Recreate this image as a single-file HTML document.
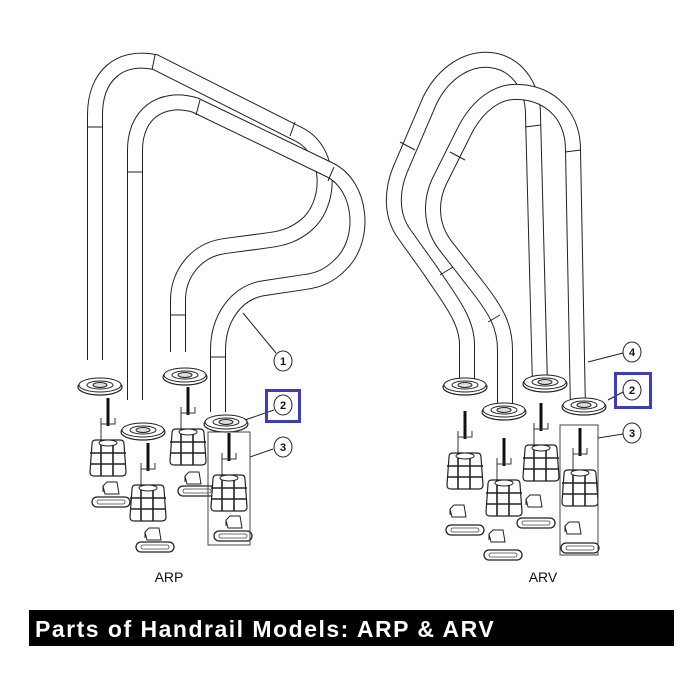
<!DOCTYPE html>
<html><head><meta charset="utf-8"><style>
html,body{margin:0;padding:0;background:#fff;width:700px;height:700px;overflow:hidden}
svg{display:block}
</style></head><body>
<svg width="700" height="700" viewBox="0 0 700 700" xmlns="http://www.w3.org/2000/svg">
<defs>
<g id="anc">
  <line x1="17" y1="-42" x2="17" y2="-14" stroke="#111" stroke-width="3"/>
  <path d="M10,-22 L10,-16 L24,-16 L24,-22 M10,-16 L10,2" fill="none" stroke="#333" stroke-width="1"/>
  <path d="M1,4 Q1,0 5,0 L29,0 Q33,0 33,4 L35,32 Q35,36 31,36 L3,36 Q-1,36 -1,32 Z" fill="#fff" stroke="#222" stroke-width="1.2"/>
  <path d="M-1,13 L35,13 M-1,24 L35,24 M10,0 L10,36 M22,0 L22,36" stroke="#222" stroke-width="1.6"/>
  <ellipse cx="17" cy="3" rx="9" ry="3" fill="#fff" stroke="#222"/>
</g>
<g id="wed">
  <path d="M0,4 L4,0 L14,0 L16,12 L2,12 Z M0,4 L0,10" fill="#fff" stroke="#222" stroke-width="1"/>
</g>
<g id="pl">
  <rect x="-19" y="-5" width="38" height="10" rx="5" fill="#fff" stroke="#222" stroke-width="1.3"/>
  <rect x="-14" y="-2" width="28" height="4" rx="2" fill="none" stroke="#444" stroke-width="0.8"/>
</g>
<g id="fl">
  <ellipse cx="0" cy="2" rx="22" ry="8" fill="#fff" stroke="#222" stroke-width="1.2"/>
  <ellipse cx="0" cy="0" rx="21" ry="7" fill="#fff" stroke="#222" stroke-width="1"/>
  <ellipse cx="0" cy="0" rx="13" ry="4" fill="none" stroke="#222" stroke-width="1"/>
  <ellipse cx="0" cy="0" rx="7" ry="2.5" fill="#ddd" stroke="#222" stroke-width="1"/>
</g>
</defs>

<g fill="none" stroke-linecap="butt" stroke-linejoin="round">
  <path d="M95,360 L95,115 C95,75 120,55 155,62 L300,135 C332,152 332,205 305,226 C295,234 285,238 270,240 L225,246 C195,250 178,275 178,300 L178,352" stroke="#222" stroke-width="16"/>
  <path d="M95,361 L95,115 C95,75 120,55 155,62 L300,135 C332,152 332,205 305,226 C295,234 285,238 270,240 L225,246 C195,250 178,275 178,300 L178,353" stroke="#fff" stroke-width="14"/>
  <path d="M135,400 L135,150 C135,115 160,95 195,105 L330,170 C362,186 367,240 340,265 C330,275 320,280 305,282 L265,288 C235,292 218,320 218,350 L218,412" stroke="#222" stroke-width="16"/>
  <path d="M135,401 L135,150 C135,115 160,95 195,105 L330,170 C362,186 367,240 340,265 C330,275 320,280 305,282 L265,288 C235,292 218,320 218,350 L218,413" stroke="#fff" stroke-width="14"/>
  <path d="M467,385 L467,345 C467,320 450,300 430,270 L405,235 C390,215 392,190 400,170 L430,100 C445,70 470,58 490,60 C515,62 533,85 533,115 L540,385" stroke="#222" stroke-width="16"/>
  <path d="M467,386 L467,345 C467,320 450,300 430,270 L405,235 C390,215 392,190 400,170 L430,100 C445,70 470,58 490,60 C515,62 533,85 533,115 L540,386" stroke="#fff" stroke-width="14"/>
  <path d="M505,410 L505,350 C505,325 495,310 480,290 L445,245 C430,225 430,200 440,180 L465,130 C478,105 498,90 520,92 C550,94 573,115 573,150 L578,410" stroke="#222" stroke-width="16"/>
  <path d="M505,411 L505,350 C505,325 495,310 480,290 L445,245 C430,225 430,200 440,180 L465,130 C478,105 498,90 520,92 C550,94 573,115 573,150 L578,411" stroke="#fff" stroke-width="14"/>
</g>
<g stroke="#222" stroke-width="1">
  <line x1="87" y1="127" x2="103" y2="127"/><line x1="127" y1="172" x2="143" y2="172"/>
  <line x1="170" y1="315" x2="186" y2="315"/><line x1="210" y1="357" x2="226" y2="357"/>
  <line x1="155" y1="55" x2="152" y2="70"/><line x1="200" y1="100" x2="196" y2="115"/>
  <line x1="295" y1="122" x2="290" y2="136"/><line x1="334" y1="167" x2="328" y2="181"/>
  <line x1="415" y1="150" x2="400" y2="142"/>
  <line x1="453" y1="267" x2="440" y2="275"/>
  <line x1="500" y1="315" x2="488" y2="322"/><line x1="465" y1="160" x2="450" y2="152"/>
  <line x1="525" y1="127" x2="541" y2="125"/><line x1="565" y1="152" x2="581" y2="150"/>
</g>

<use href="#fl" x="100" y="385"/>
<use href="#fl" x="185" y="375"/>
<use href="#fl" x="143" y="430"/>
<use href="#fl" x="226" y="422"/>
<use href="#anc" x="91" y="440"/><use href="#wed" x="103" y="482"/><use href="#pl" x="111" y="502"/>
<use href="#anc" x="171" y="429"/><use href="#wed" x="185" y="472"/><use href="#pl" x="197" y="491"/>
<use href="#anc" x="131" y="485"/><use href="#wed" x="145" y="528"/><use href="#pl" x="155" y="547"/>
<use href="#anc" x="212" y="475"/><use href="#wed" x="226" y="516"/><use href="#pl" x="233" y="536"/>
<rect x="208" y="432" width="42" height="113" fill="none" stroke="#444" stroke-width="1"/>

<use href="#fl" x="465" y="385"/>
<use href="#fl" x="545" y="382"/>
<use href="#fl" x="504" y="410"/>
<use href="#fl" x="584" y="405"/>
<use href="#anc" x="448" y="453"/><use href="#wed" x="450" y="505"/><use href="#pl" x="465" y="530"/>
<use href="#anc" x="524" y="445"/><use href="#wed" x="526" y="495"/><use href="#pl" x="536" y="523"/>
<use href="#anc" x="487" y="480"/><use href="#wed" x="489" y="530"/><use href="#pl" x="503" y="555"/>
<use href="#anc" x="563" y="470"/><use href="#wed" x="565" y="522"/><use href="#pl" x="580" y="548"/>
<rect x="560" y="425" width="38" height="130" fill="none" stroke="#444" stroke-width="1"/>

<g stroke="#222" stroke-width="1" fill="#fff">
  <line x1="243" y1="313" x2="276" y2="353"/>
  <line x1="245" y1="420" x2="274" y2="410"/>
  <line x1="250" y1="457" x2="273" y2="449"/>
  <ellipse cx="283" cy="361" rx="9" ry="10"/>
  <ellipse cx="283" cy="405" rx="9" ry="10"/>
  <ellipse cx="283" cy="447" rx="9" ry="10"/>
  <line x1="588" y1="362" x2="623" y2="353"/>
  <line x1="608" y1="400" x2="623" y2="392"/>
  <line x1="598" y1="438" x2="623" y2="434"/>
  <ellipse cx="632" cy="352" rx="9" ry="10"/>
  <ellipse cx="632" cy="390" rx="9" ry="10"/>
  <ellipse cx="632" cy="433" rx="9" ry="10"/>
</g>
<g font-family="Liberation Sans, sans-serif" font-size="11" font-weight="bold" fill="#111" text-anchor="middle">
  <text x="283" y="365">1</text><text x="283" y="409">2</text><text x="283" y="451">3</text>
  <text x="632" y="356">4</text><text x="632" y="394">2</text><text x="632" y="437">3</text>
</g>
<rect x="266.5" y="390.5" width="33" height="31" fill="none" stroke="#3c3cc0" stroke-width="3"/>
<rect x="615.5" y="373.5" width="35" height="34" fill="none" stroke="#3c3cc0" stroke-width="3"/>

<g font-family="Liberation Sans, sans-serif" font-size="14" fill="#111" text-anchor="middle">
  <text x="169" y="582">ARP</text><text x="543" y="582">ARV</text>
</g>

<rect x="29" y="610" width="645" height="36" fill="#000"/>
<text x="35" y="637" font-family="Liberation Sans, sans-serif" font-size="23" font-weight="bold" letter-spacing="1.5" fill="#fff">Parts of Handrail Models: ARP &amp; ARV</text>
</svg>
</body></html>
